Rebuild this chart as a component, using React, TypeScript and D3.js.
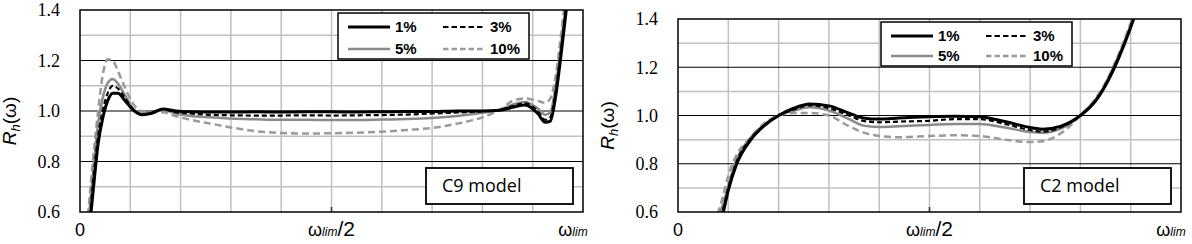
import React from "react";
import * as d3 from "d3";

// ---------- data ----------
const yTicks = [0.6, 0.8, 1.0, 1.2, 1.4];
const seriesNames = ["1%", "3%", "5%", "10%"];

// C9 model
const c9X = [0.012, 0.02, 0.028, 0.036, 0.045, 0.055, 0.065, 0.075, 0.09, 0.105, 0.122, 0.14, 0.165, 0.19, 0.22, 0.26, 0.3, 0.35, 0.4, 0.45, 0.5, 0.55, 0.6, 0.65, 0.7, 0.75, 0.8, 0.835, 0.86, 0.885, 0.91, 0.925, 0.935, 0.945, 0.955, 0.965, 0.975];
const c9_1 = [0.4, 0.56, 0.72, 0.87, 0.97, 1.04, 1.07, 1.07, 1.04, 1.005, 0.985, 0.99, 1.008, 1.0, 0.997, 0.996, 0.996, 0.997, 0.996, 0.997, 0.997, 0.996, 0.997, 0.998, 0.998, 1.0, 1.0, 1.003, 1.015, 1.024, 0.99, 0.955, 0.96, 1.05, 1.2, 1.37, 1.55];
const c9_3 = [0.43, 0.59, 0.76, 0.9, 1.0, 1.07, 1.1, 1.09, 1.05, 1.008, 0.987, 0.99, 1.007, 0.995, 0.99, 0.985, 0.983, 0.982, 0.982, 0.983, 0.982, 0.983, 0.984, 0.986, 0.99, 0.994, 0.999, 1.004, 1.02, 1.03, 1.0, 0.965, 0.975, 1.07, 1.22, 1.39, 1.56];
const c9_5 = [0.46, 0.63, 0.8, 0.95, 1.05, 1.11, 1.127, 1.11, 1.06, 1.01, 0.99, 0.99, 1.005, 0.99, 0.98, 0.975, 0.97, 0.967, 0.965, 0.965, 0.964, 0.964, 0.966, 0.968, 0.972, 0.98, 0.993, 1.005, 1.025, 1.036, 1.01, 0.985, 0.995, 1.09, 1.24, 1.41, 1.58];
const c9_10 = [0.5, 0.68, 0.85, 1.0, 1.14, 1.205, 1.2, 1.16, 1.09, 1.03, 1.0, 0.996, 0.995, 0.98, 0.965, 0.95, 0.935, 0.92, 0.913, 0.911, 0.912, 0.914, 0.918, 0.925, 0.933, 0.95, 0.975, 1.005, 1.04, 1.05, 1.04, 1.032, 1.05, 1.13, 1.28, 1.45, 1.6];

// C2 model
const c2X = [0.07, 0.08, 0.09, 0.1, 0.115, 0.145, 0.17, 0.2, 0.23, 0.262, 0.3, 0.34, 0.368, 0.4, 0.44, 0.5, 0.55, 0.6, 0.65, 0.7, 0.724, 0.76, 0.8, 0.83, 0.843, 0.868, 0.906, 0.93];
const c2_1 = [0.5, 0.55, 0.6, 0.69, 0.79, 0.9, 0.955, 1.0, 1.03, 1.048, 1.04, 1.01, 0.99, 0.985, 0.99, 0.995, 0.997, 0.995, 0.975, 0.95, 0.943, 0.955, 1.0, 1.06, 1.1, 1.2, 1.4, 1.55];
const c2_3 = [0.52, 0.56, 0.615, 0.7, 0.8, 0.905, 0.957, 1.0, 1.025, 1.042, 1.03, 1.0, 0.978, 0.972, 0.975, 0.978, 0.985, 0.985, 0.965, 0.94, 0.933, 0.95, 1.0, 1.062, 1.102, 1.205, 1.405, 1.56];
const c2_5 = [0.53, 0.58, 0.635, 0.71, 0.81, 0.91, 0.96, 1.0, 1.02, 1.034, 1.02, 0.985, 0.958, 0.952, 0.955, 0.961, 0.965, 0.965, 0.95, 0.932, 0.929, 0.945, 1.0, 1.065, 1.105, 1.21, 1.41, 1.56];
const c2_10 = [0.55, 0.6, 0.67, 0.75, 0.83, 0.91, 0.965, 1.0, 1.01, 1.01, 1.0, 0.955, 0.93, 0.915, 0.91, 0.915, 0.918, 0.915, 0.9, 0.89, 0.893, 0.925, 1.0, 1.07, 1.11, 1.215, 1.42, 1.57];

// ---------- styles ----------
const seriesStyle = [
  { stroke: "#000", width: 3, dash: null },
  { stroke: "#000", width: 2.2, dash: "5,3" },
  { stroke: "#8a8a8a", width: 2.5, dash: null },
  { stroke: "#9a9a9a", width: 2.5, dash: "7,4" },
];

type ChartCfg = {
  id: string;
  left: number; right: number; top: number; bottom: number;
  xs: number[]; ys: number[][];
  legendX: number; legendY: number; legendH: number;
  model: string;
};

const charts: ChartCfg[] = [
  { id: "c9", left: 80, right: 583, top: 10, bottom: 212, xs: c9X, ys: [c9_1, c9_3, c9_5, c9_10], legendX: 338, legendY: 13, legendH: 46, model: "C9 model" },
  { id: "c2", left: 678, right: 1181, top: 19, bottom: 212, xs: c2X, ys: [c2_1, c2_3, c2_5, c2_10], legendX: 881, legendY: 22, legendH: 44, model: "C2 model" },
];

const SERIF = "Liberation Serif, DejaVu Serif, serif";
const SANS = "Liberation Sans, Arial, sans-serif";

function Chart({ c }: { c: ChartCfg }) {
  const x = d3.scaleLinear().domain([0, 1]).range([c.left, c.right]);
  const y = d3.scaleLinear().domain([0.6, 1.4]).range([c.bottom, c.top]);
  const line = d3.line<[number, number]>().x(d => x(d[0])).y(d => y(d[1])).curve(d3.curveMonotoneX);
  const vgrid = d3.range(1, 10).map(i => i / 10);
  const hMinor = [0.7, 0.9, 1.1, 1.3];
  const hMajor = [0.8, 1.0, 1.2];
  const lx = c.legendX, ly = c.legendY;
  const midY = (c.top + c.bottom) / 2 + 10;
  const boxW = 147, boxH = 36;
  const boxX = c.right - 10 - boxW, boxY = c.bottom - 8 - boxH;
  return (
    <g>
      <defs>
        <clipPath id={`clip-${c.id}`}>
          <rect x={c.left} y={c.top} width={c.right - c.left} height={c.bottom - c.top} />
        </clipPath>
      </defs>
      <rect x={c.left} y={c.top} width={c.right - c.left} height={c.bottom - c.top} fill="#fff" />
      {vgrid.map(v => (
        <line key={"v" + v} x1={x(v)} x2={x(v)} y1={c.top} y2={c.bottom} stroke="#c0c0c0" strokeWidth={1.5} />
      ))}
      <line x1={x(0.5)} x2={x(0.5)} y1={c.bottom - 5} y2={c.bottom} stroke="#333" strokeWidth={1.5} />
      {hMinor.map(v => (
        <line key={"hm" + v} x1={c.left} x2={c.right} y1={y(v)} y2={y(v)} stroke="#c0c0c0" strokeWidth={1.5} />
      ))}
      {hMajor.map(v => (
        <line key={"hM" + v} x1={c.left} x2={c.right} y1={y(v)} y2={y(v)} stroke="#000" strokeWidth={1.2} />
      ))}
      <g clipPath={`url(#clip-${c.id})`}>
        {[3, 2, 1, 0].map(i => {
          const s = seriesStyle[i];
          const pts = c.xs.map((xv, j) => [xv, c.ys[i][j]] as [number, number]);
          return (
            <path key={i} d={line(pts) || ""} fill="none" stroke={s.stroke} strokeWidth={s.width}
              strokeDasharray={s.dash || undefined} strokeLinejoin="round" />
          );
        })}
      </g>
      <rect x={c.left} y={c.top} width={c.right - c.left} height={c.bottom - c.top} fill="none" stroke="#000" strokeWidth={1.5} />
      {yTicks.map(t => (
        <text key={"yt" + t} x={c.left - 20} y={y(t)} dy="0.35em" textAnchor="end"
          style={{ fontFamily: SERIF }} fontSize={18} fill="#000">
          {d3.format(".1f")(t)}
        </text>
      ))}
      <text transform={`translate(${c.left - 64},${midY}) rotate(-90)`} textAnchor="middle"
        style={{ fontFamily: SANS }} fontSize={19} fill="#000">
        <tspan fontStyle="italic">R</tspan>
        <tspan fontStyle="italic" fontSize={13} dy={4}>h</tspan>
        <tspan dy={-4}>(ω)</tspan>
      </text>
      <text x={c.left} y={236} textAnchor="middle" style={{ fontFamily: SANS }} fontSize={18} fill="#000">0</text>
      <text x={x(0.5)} y={236} textAnchor="middle" style={{ fontFamily: SANS }} fontSize={18} fill="#000">
        <tspan>ω</tspan><tspan fontStyle="italic" fontSize={12}>lim</tspan><tspan fontSize={21}>/2</tspan>
      </text>
      <text x={c.right - 10} y={236} textAnchor="middle" style={{ fontFamily: SANS }} fontSize={18} fill="#000">
        <tspan>ω</tspan><tspan fontStyle="italic" fontSize={12}>lim</tspan>
      </text>
      <rect x={lx} y={ly} width={191} height={c.legendH} fill="#fff" stroke="#000" strokeWidth={1.5} />
      {seriesNames.map((n, i) => {
        const col = i % 2, row = i < 2 ? 0 : 1;
        const s = seriesStyle[i];
        const rowY = ly + (row === 0 ? 14 : c.legendH - 10);
        const x0 = lx + (col === 0 ? 10 : 105);
        return (
          <g key={n}>
            <line x1={x0} x2={x0 + 42} y1={rowY} y2={rowY} stroke={s.stroke} strokeWidth={s.width}
              strokeDasharray={s.dash ? "5.5,3" : undefined} />
            <text x={x0 + 47} y={rowY} dy="0.36em" style={{ fontFamily: SANS }} fontWeight="bold" fontSize={15} fill="#000">{n}</text>
          </g>
        );
      })}
      <rect x={boxX} y={boxY} width={boxW} height={boxH} fill="#fff" stroke="#000" strokeWidth={1.8} />
      <text x={boxX + 16} y={boxY + boxH / 2} dy="0.36em" style={{ fontFamily: "Open Sans, sans-serif" }} fontSize={18} fill="#000">{c.model}</text>
    </g>
  );
}

export default function App() {
  return (
    <svg width={1192} height={244} style={{ position: "absolute", left: 0, top: 0, background: "#fff" }}>
      <rect width={1192} height={244} fill="#fff" />
      {charts.map(c => <Chart key={c.id} c={c} />)}
    </svg>
  );
}
